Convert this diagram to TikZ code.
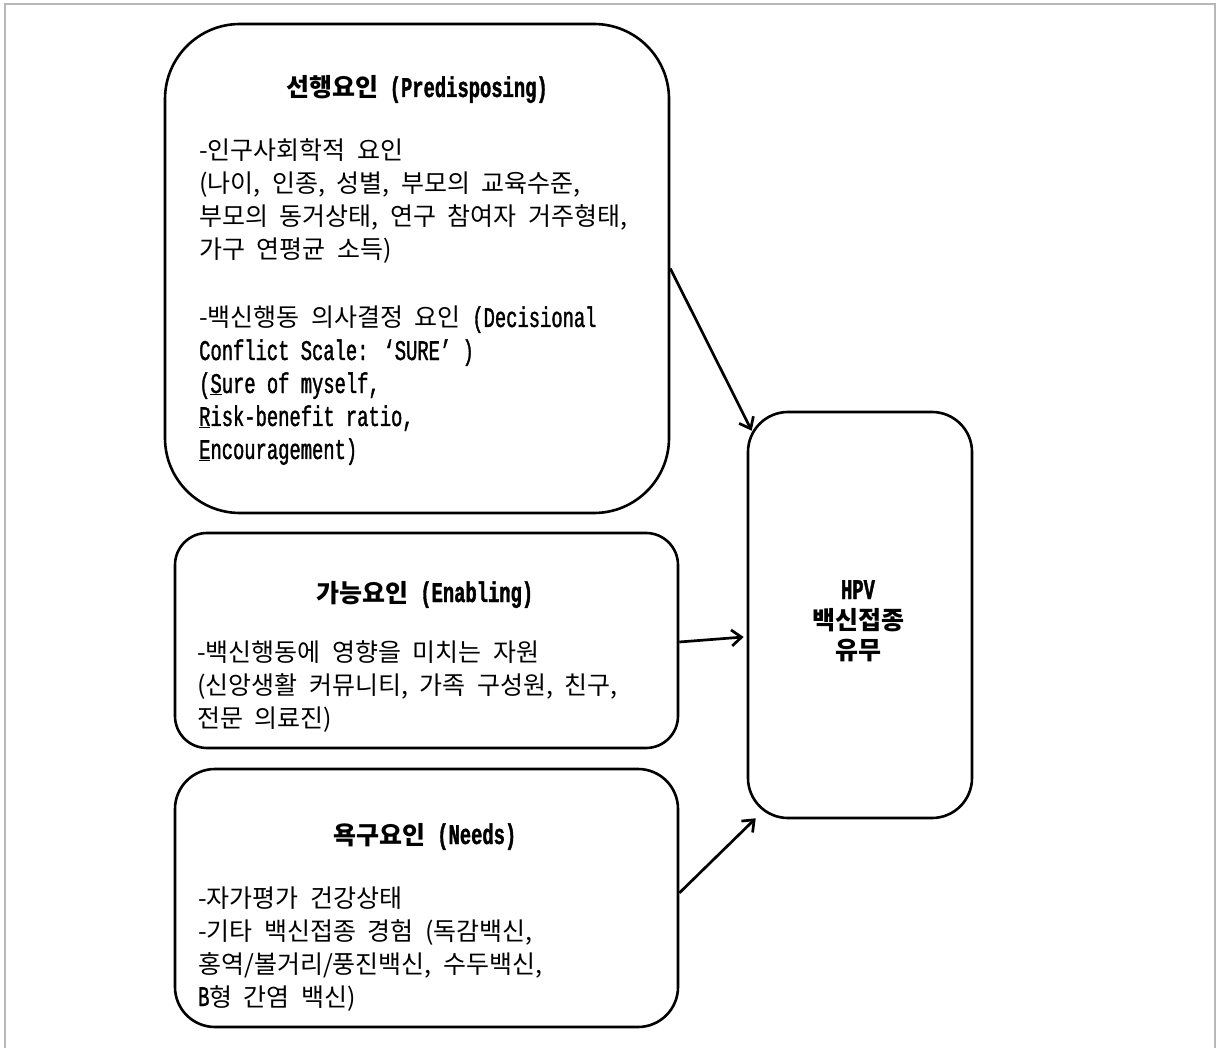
\documentclass[tikz,border=0pt]{standalone}
\usepackage{fontspec}
\setmainfont{Noto Sans CJK KR}
\newfontfamily\en{Liberation Mono}[FakeStretch=0.66,Scale=1.14,FakeBold=1.3]
\newcommand\kosp{\fontdimen2\font=11.5pt\fontdimen3\font=0pt\fontdimen4\font=0pt}
\usetikzlibrary{arrows.meta,calc}
\tikzset{
  box/.style={draw=black, line width=2.6pt, fill=white, inner sep=0pt},
  arr/.style={line width=2.7pt, -{Straight Barb[length=10pt,width=16pt,line width=2.7pt]}},
  ttl/.style={font=\fontsize{25}{33}\selectfont\bfseries\kosp, anchor=base, inner sep=0pt},
  body/.style={font=\fontsize{25}{33}\selectfont\kosp, align=left, anchor=base west, inner sep=0pt},
}
\begin{document}
\begin{tikzpicture}[x=1pt,y=-1pt]
\useasboundingbox[fill=white] (0,0) rectangle (1216,1048);
\draw[line width=1.5pt, draw=black!28] (5,1060) -- (5,4) -- (1215,4) -- (1215,1060);

% boxes
\node[box, minimum width=504pt, minimum height=489pt, rounded corners=75pt] (b1) at (417,268.5) {};
\node[box, minimum width=503pt, minimum height=215pt, rounded corners=32pt] (b2) at (426.5,640.5) {};
\node[box, minimum width=503pt, minimum height=258pt, rounded corners=40pt] (b3) at (426.5,898) {};
\node[box, minimum width=224pt, minimum height=406pt, rounded corners=40pt] (b4) at (860,615) {};

% box 1 text (base = last line)
\node[ttl] (t1) at (417,97) {선행요인 {\en (Predisposing)}};
\node[body] (p1) at (199,259) {-인구사회학적 요인\\(나이, 인종, 성별, 부모의 교육수준,\\부모의 동거상태, 연구 참여자 거주형태,\\가구 연평균 소득)};
\node[body] (p2) at (199,459) {-백신행동 의사결정 요인 {\en (Decisional}\\{\en Conflict Scale: ‘SURE’ )}\\{\en (\underline{S}ure of myself,}\\{\en \underline{R}isk-benefit ratio,}\\{\en \underline{E}ncouragement)}};

% box 2 text
\node[ttl] (t2) at (425,602) {가능요인 {\en (Enabling)}};
\node[body] (e1) at (197,727) {-백신행동에 영향을 미치는 자원\\(신앙생활 커뮤니티, 가족 구성원, 친구,\\전문 의료진)};

% box 3 text
\node[ttl] (t3) at (425,844) {욕구요인 {\en (Needs)}};
\node[body] (n1) at (198,1006) {-자가평가 건강상태\\-기타 백신접종 경험 (독감백신,\\홍역/볼거리/풍진백신, 수두백신,\\{\en B}형 간염 백신)};

% box 4 text
\node[ttl, align=center, font=\fontsize{25}{30}\selectfont\bfseries\kosp] (h1) at (858,659) {{\en HPV}\\백신접종\\유무};

% connectors
\draw[arr] (b1.east) -- ($(b4.north west)+(5,20)$);
\draw[arr] ($(b2.east)+(0,1.5)$) -- ($(b4.west)+(-3,22)$);
\draw[arr] ($(b3.east)+(0,-5)$) -- ($(b4.south west)+(9,-1)$);
\end{tikzpicture}
\end{document}
